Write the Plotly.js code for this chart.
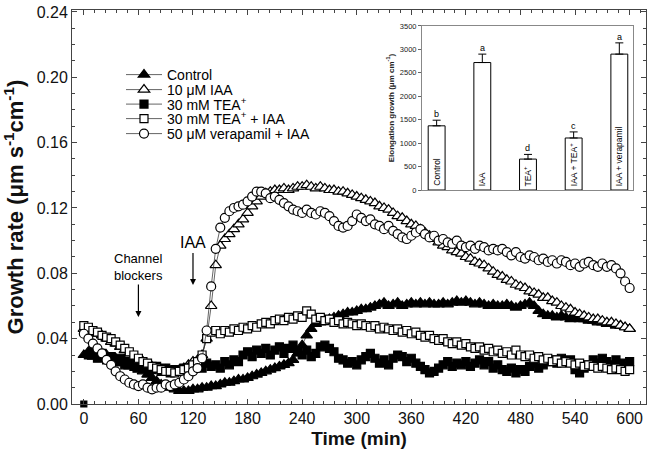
<!DOCTYPE html>
<html>
<head>
<meta charset="utf-8">
<script src="https://cdn.plot.ly/plotly-3.0.1.min.js"></script>
<style>html,body{margin:0;padding:0;background:#fff;}#chart{width:650px;height:457px;}</style>
</head>
<body>
<div id="chart"></div>
<script>
// ---- main chart data (time in min, growth rate in µm s-1 cm-1) ----
var timeMin = [0,5,10,15,20,25,30,35,40,45,50,55,60,65,70,75,80,85,90,95,100,105,110,115,120,125,130,135,140,145,150,155,160,165,170,175,180,185,190,195,200,205,210,215,220,225,230,235,240,245,250,255,260,265,270,275,280,285,290,295,300,305,310,315,320,325,330,335,340,345,350,355,360,365,370,375,380,385,390,395,400,405,410,415,420,425,430,435,440,445,450,455,460,465,470,475,480,485,490,495,500,505,510,515,520,525,530,535,540,545,550,555,560,565,570,575,580,585,590,595,600];

var controlRate = [0.030,0.032,0.029,0.031,0.028,0.030,0.027,0.028,0.025,0.026,0.023,0.024,0.021,0.020,0.018,0.016,0.014,0.012,0.011,0.010,0.009,0.008,0.008,0.008,0.009,0.009,0.010,0.010,0.011,0.011,0.012,0.013,0.013,0.014,0.015,0.015,0.016,0.017,0.018,0.019,0.020,0.021,0.022,0.023,0.024,0.025,0.027,0.031,0.036,0.042,0.046,0.049,0.050,0.051,0.052,0.053,0.054,0.055,0.056,0.056,0.057,0.058,0.058,0.059,0.060,0.061,0.062,0.060,0.061,0.062,0.060,0.061,0.062,0.061,0.062,0.061,0.062,0.061,0.061,0.062,0.061,0.062,0.063,0.062,0.063,0.062,0.061,0.062,0.061,0.060,0.061,0.060,0.060,0.061,0.060,0.059,0.060,0.061,0.062,0.060,0.057,0.055,0.054,0.054,0.053,0.054,0.053,0.052,0.053,0.052,0.052,0.051,0.051,0.050,0.050,0.049,0.049,0.048,0.048,0.047,0.046];

var iaaRate = [0.046,0.045,0.044,0.043,0.042,0.040,0.038,0.037,0.035,0.033,0.031,0.029,0.027,0.026,0.024,0.023,0.022,0.021,0.021,0.020,0.020,0.021,0.022,0.024,0.026,0.027,0.030,0.040,0.060,0.085,0.097,0.101,0.104,0.107,0.110,0.113,0.117,0.121,0.124,0.127,0.129,0.130,0.131,0.131,0.132,0.131,0.132,0.133,0.133,0.134,0.133,0.132,0.133,0.132,0.131,0.131,0.130,0.130,0.129,0.128,0.127,0.126,0.125,0.124,0.123,0.121,0.120,0.119,0.117,0.115,0.114,0.112,0.110,0.109,0.107,0.105,0.103,0.101,0.099,0.097,0.096,0.094,0.093,0.092,0.090,0.089,0.087,0.086,0.085,0.083,0.081,0.079,0.078,0.076,0.075,0.073,0.072,0.071,0.069,0.068,0.067,0.065,0.065,0.063,0.062,0.060,0.059,0.058,0.056,0.055,0.054,0.053,0.052,0.052,0.051,0.050,0.050,0.049,0.048,0.047,0.046];

// first TEA+ reading (t = 0) sits apart from the rest of the record
var teaStartTime = [0];
var teaStartRate = [0.000];
var teaTime = [5,10,15,20,25,30,35,40,45,50,55,60,65,70,75,80,85,90,95,100,105,110,115,120,125,130,135,140,145,150,155,160,165,170,175,180,185,190,195,200,205,210,215,220,225,230,235,240,245,250,255,260,265,270,275,280,285,290,295,300,305,310,315,320,325,330,335,340,345,350,355,360,365,370,375,380,385,390,395,400,405,410,415,420,425,430,435,440,445,450,455,460,465,470,475,480,485,490,495,500,505,510,515,520,525,530,535,540,545,550,555,560,565,570,575,580,585,590,595,600];
var teaRate = [0.030,0.032,0.028,0.031,0.027,0.029,0.026,0.028,0.024,0.026,0.023,0.025,0.022,0.024,0.021,0.023,0.020,0.022,0.019,0.021,0.020,0.022,0.021,0.023,0.024,0.022,0.025,0.023,0.024,0.022,0.026,0.024,0.027,0.026,0.030,0.032,0.029,0.033,0.031,0.034,0.030,0.033,0.035,0.031,0.034,0.036,0.032,0.030,0.033,0.029,0.031,0.035,0.036,0.034,0.032,0.028,0.027,0.025,0.026,0.024,0.027,0.029,0.031,0.028,0.025,0.027,0.024,0.028,0.030,0.029,0.026,0.028,0.025,0.023,0.021,0.019,0.020,0.022,0.024,0.026,0.023,0.025,0.024,0.026,0.023,0.025,0.027,0.024,0.026,0.022,0.024,0.021,0.020,0.022,0.019,0.021,0.020,0.023,0.025,0.022,0.024,0.026,0.027,0.025,0.028,0.026,0.027,0.021,0.019,0.022,0.024,0.027,0.025,0.028,0.026,0.024,0.027,0.025,0.023,0.026];

var teaIaaRate = [0.048,0.047,0.045,0.044,0.042,0.041,0.040,0.038,0.036,0.034,0.032,0.030,0.028,0.026,0.025,0.023,0.022,0.021,0.020,0.020,0.019,0.020,0.021,0.022,0.024,0.026,0.030,0.040,0.044,0.045,0.043,0.045,0.044,0.046,0.045,0.047,0.046,0.048,0.047,0.049,0.050,0.049,0.051,0.052,0.051,0.053,0.052,0.054,0.053,0.057,0.055,0.052,0.053,0.051,0.052,0.050,0.051,0.049,0.050,0.049,0.048,0.049,0.048,0.047,0.048,0.046,0.047,0.046,0.045,0.046,0.044,0.045,0.043,0.044,0.042,0.041,0.042,0.040,0.039,0.040,0.038,0.037,0.038,0.036,0.037,0.035,0.034,0.035,0.033,0.034,0.032,0.033,0.031,0.032,0.030,0.033,0.030,0.029,0.030,0.028,0.029,0.027,0.028,0.026,0.027,0.025,0.026,0.025,0.024,0.025,0.023,0.024,0.023,0.022,0.023,0.022,0.021,0.022,0.021,0.020,0.021];

var verapamilIaaRate = [0.043,0.040,0.037,0.034,0.031,0.027,0.024,0.020,0.017,0.015,0.013,0.012,0.011,0.012,0.010,0.009,0.010,0.010,0.012,0.011,0.012,0.013,0.015,0.017,0.020,0.022,0.028,0.045,0.072,0.095,0.108,0.114,0.118,0.120,0.121,0.122,0.124,0.127,0.130,0.130,0.129,0.126,0.127,0.125,0.123,0.121,0.119,0.118,0.117,0.119,0.117,0.116,0.118,0.117,0.115,0.112,0.109,0.108,0.109,0.112,0.116,0.114,0.112,0.113,0.110,0.109,0.107,0.109,0.106,0.104,0.102,0.101,0.103,0.105,0.107,0.104,0.102,0.103,0.100,0.101,0.099,0.098,0.100,0.097,0.096,0.097,0.095,0.097,0.096,0.094,0.095,0.094,0.095,0.093,0.091,0.093,0.090,0.089,0.091,0.090,0.088,0.089,0.087,0.088,0.086,0.088,0.087,0.085,0.086,0.084,0.086,0.087,0.085,0.084,0.086,0.084,0.085,0.083,0.080,0.075,0.071];

var seriesNames = ['Control', '10 μM IAA', '30 mM TEA<sup>+</sup>', '30 mM TEA<sup>+</sup> + IAA', '50 μM verapamil + IAA'];

// ---- inset data (elongation growth, µm cm-1) ----
var insetCategories = [0, 1, 2, 3, 4];
var insetLabels = ['Control', 'IAA', 'TEA<sup>+</sup>', 'IAA + TEA<sup>+</sup>', 'IAA + verapamil'];
var insetValues = [1370, 2720, 660, 1110, 2900];
var insetErrors = [120, 180, 100, 130, 240];
var insetLetters = ['b', 'a', 'd', 'c', 'a'];

var FONT = 'Liberation Sans, Arial, sans-serif';

function mk(x, y, name, symbol, filled, size, legendId) {
  return {
    type: 'scatter', mode: 'lines+markers', x: x, y: y, name: name,
    line: {color: '#222', width: 0.7},
    marker: {symbol: symbol, size: size, color: filled ? '#000' : '#fff',
             line: {color: '#000', width: 1.2}},
    xaxis: 'x', yaxis: 'y', cliponaxis: false, legend: legendId
  };
}

var traces = [
  mk(timeMin, controlRate, seriesNames[0], 'triangle-up', true, 10, 'legend'),
  mk(timeMin, iaaRate, seriesNames[1], 'triangle-up', false, 10, 'legend2'),
  mk(teaTime, teaRate, seriesNames[2], 'square', true, 8, 'legend3'),
  mk(timeMin, teaIaaRate, seriesNames[3], 'square', false, 8, 'legend4'),
  mk(timeMin, verapamilIaaRate, seriesNames[4], 'circle', false, 9, 'legend5')
];
var teaStart = mk(teaStartTime, teaStartRate, seriesNames[2], 'square', true, 6, 'legend3');
teaStart.mode = 'markers'; teaStart.showlegend = false;
traces.push(teaStart);

traces.push({
  type: 'bar', x: insetCategories, y: insetValues, xaxis: 'x2', yaxis: 'y2',
  width: 0.37, showlegend: false,
  marker: {color: '#fff', line: {color: '#000', width: 1}},
  error_y: {type: 'data', array: insetErrors, symmetric: false, arrayminus: [0,0,0,0,0], color: '#000', thickness: 1, width: 4}
});

var annotations = [
  {x: 60, y: 0.0533, xref: 'x', yref: 'y', text: 'Channel<br>blockers', showarrow: true,
   ax: 0, ay: -50, arrowhead: 2, arrowsize: 1, arrowwidth: 1.2, arrowcolor: '#000',
   font: {family: FONT, size: 13, color: '#000'}},
  {x: 120, y: 0.0729, xref: 'x', yref: 'y', text: 'IAA', showarrow: true,
   ax: 0, ay: -42, arrowhead: 2, arrowsize: 1, arrowwidth: 1.2, arrowcolor: '#000',
   font: {family: FONT, size: 16, color: '#000'}}
];
for (var i = 0; i < insetCategories.length; i++) {
  annotations.push({x: insetCategories[i], y: insetValues[i] + insetErrors[i], xref: 'x2', yref: 'y2',
    text: insetLetters[i], showarrow: false, yanchor: 'bottom', yshift: -1,
    font: {family: FONT, size: 9, color: '#000'}});
  annotations.push({x: insetCategories[i], y: 0, xref: 'x2', yref: 'y2',
    text: insetLabels[i], showarrow: false, textangle: -90, xanchor: 'center', yanchor: 'bottom', yshift: 2,
    font: {family: FONT, size: 8.5, color: '#000'}});
}

function leg(py) {
  return {x: (121 - 72) / 574, y: (404 - py) / 394, xanchor: 'left', yanchor: 'middle',
          bgcolor: 'rgba(0,0,0,0)', itemwidth: 36,
          font: {family: FONT, size: 14, color: '#000'}};
}

var layout = {
  width: 650, height: 457,
  margin: {l: 72, r: 4, t: 10, b: 53},
  paper_bgcolor: '#fff', plot_bgcolor: '#fff',
  font: {family: FONT, color: '#111'},
  showlegend: true,
  legend: leg(75), legend2: leg(90), legend3: leg(104.5), legend4: leg(119), legend5: leg(134),
  xaxis: {range: [-13, 618], domain: [0, 1], showgrid: false, zeroline: false,
          showline: true, linecolor: '#444', linewidth: 1, mirror: 'ticks',
          ticks: 'inside', ticklen: 5, tickcolor: '#444', dtick: 60, tick0: 0,
          minor: {dtick: 12, ticks: 'inside', ticklen: 3, tickcolor: '#444'},
          tickfont: {family: FONT, size: 16, color: '#111'},
          title: {text: '<b>Time (min)</b>', font: {family: FONT, size: 19, color: '#111'}, standoff: 5}},
  yaxis: {range: [0, 0.2412], domain: [0, 1], showgrid: false, zeroline: false,
          showline: true, linecolor: '#444', linewidth: 1, mirror: 'ticks',
          ticks: 'inside', ticklen: 5, tickcolor: '#444', dtick: 0.04, tick0: 0, tickformat: '.2f',
          minor: {dtick: 0.01, ticks: 'inside', ticklen: 3, tickcolor: '#444'},
          tickfont: {family: FONT, size: 16, color: '#111'},
          title: {text: '<b>Growth rate (μm s<sup>-1</sup>cm<sup>-1</sup>)</b>', font: {family: FONT, size: 22, color: '#111'}, standoff: 6}},
  xaxis2: {domain: [0.6098, 0.9774], anchor: 'y2', range: [-0.32, 4.3], showgrid: false, zeroline: false,
           showline: true, linecolor: '#888', linewidth: 1, mirror: true, showticklabels: false, ticks: ''},
  yaxis2: {domain: [0.5431, 0.9594], anchor: 'x2', range: [0, 3500], showgrid: false, zeroline: false,
           showline: true, linecolor: '#888', linewidth: 1, mirror: true, dtick: 500,
           ticks: 'outside', ticklen: 3, tickcolor: '#666',
           tickfont: {family: FONT, size: 7.5, color: '#222'},
           title: {text: '<b>Elongation growth (μm cm<sup>-1</sup>)</b>', font: {family: FONT, size: 8, color: '#222'}, standoff: 4}},
  annotations: annotations
};

Plotly.newPlot('chart', traces, layout, {displayModeBar: false, staticPlot: true});
</script>
</body>
</html>
